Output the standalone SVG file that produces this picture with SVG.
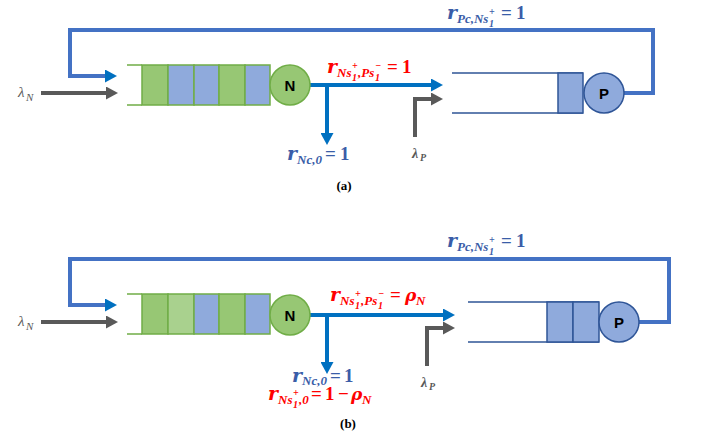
<svg xmlns="http://www.w3.org/2000/svg" width="706" height="442" viewBox="0 0 706 442">
<defs>
<style>
.bg{fill:#ffffff}
.qn{fill:none;stroke:#70AD47;stroke-width:1.5}
.cg{fill:#97C774;stroke:#70AD47;stroke-width:1.5}
.cl{fill:#A9D18E;stroke:#70AD47;stroke-width:1.5}
.cb{fill:#8FAADC;stroke:#70AD47;stroke-width:1.5}
.qp{fill:none;stroke:#2F5597;stroke-width:1.5}
.cp{fill:#8FAADC;stroke:#2F5597;stroke-width:1.5}
.nN{fill:#97C774;stroke:#70AD47;stroke-width:1.5}
.nP{fill:#8FAADC;stroke:#2F5597;stroke-width:1.5}
.nt{font-family:"Liberation Sans",Arial,sans-serif;font-weight:bold;font-size:15px;fill:#000;text-anchor:middle}
.loop{fill:none;stroke:#4472C4;stroke-width:4}
.flow{fill:none;stroke:#0070C0;stroke-width:4}
.ext{fill:none;stroke:#595959;stroke-width:4}
.m{font-family:"Liberation Serif","Times New Roman",serif;font-weight:bold;font-style:italic}
.r{font-family:"DejaVu Serif",serif;font-size:19px}
.s{font-size:13px}
.ss{font-size:10px}
.eq{font-style:normal;font-size:19px}
.rho{font-family:"DejaVu Serif",serif;font-style:italic;font-size:17px}
.blu{fill:#3A5DA8}
.red{fill:#FF0000}
.lam{font-family:"Liberation Serif","Times New Roman",serif;font-style:italic;fill:#595959}
.cap{font-family:"Liberation Serif","Times New Roman",serif;font-weight:bold;font-size:13px;fill:#000;text-anchor:middle}
</style>
<marker id="ab" markerUnits="userSpaceOnUse" markerWidth="12" markerHeight="13" refX="0" refY="6.5" orient="auto"><path d="M0,0 L12,6.5 L0,13 z" fill="#0070C0"/></marker>
<marker id="ag" markerUnits="userSpaceOnUse" markerWidth="12" markerHeight="13" refX="0" refY="6.5" orient="auto"><path d="M0,0 L12,6.5 L0,13 z" fill="#595959"/></marker>
</defs>
<rect class="bg" x="0" y="0" width="706" height="442"/>

<g id="connectors">
<path class="loop" d="M624,93 H653 V30 H70 V76 H105" marker-end="url(#ab)"/>
<path class="ext" d="M41,93 H106" marker-end="url(#ag)"/>
<path class="flow" d="M310,85 H431" marker-end="url(#ab)"/>
<path class="flow" d="M327,85 V133" marker-end="url(#ab)"/>
<path class="ext" d="M415,137 V99 H431" marker-end="url(#ag)"/>

<path class="loop" d="M639,322 H669 V259 H70 V305 H105" marker-end="url(#ab)"/>
<path class="ext" d="M41,322 H106" marker-end="url(#ag)"/>
<path class="flow" d="M310,315 H443" marker-end="url(#ab)"/>
<path class="flow" d="M327,315 V362" marker-end="url(#ab)"/>
<path class="ext" d="M427,366 V328 H443" marker-end="url(#ag)"/>
</g>

<g id="queueN_a">
<path class="qn" d="M127,65 H142 M127,105 H142"/>
<rect class="cg" x="142" y="65" width="26" height="40"/>
<rect class="cb" x="168" y="65" width="26" height="40"/>
<rect class="cb" x="194" y="65" width="25" height="40"/>
<rect class="cg" x="219" y="65" width="26" height="40"/>
<rect class="cb" x="245" y="65" width="25" height="40"/>
</g>
<g id="nodeN_a">
<circle class="nN" cx="290" cy="85" r="20"/>
<text class="nt" x="290" y="90.5">N</text>
</g>
<g id="queueP_a">
<path class="qp" d="M452,73 H583 M452,113 H583"/>
<rect class="cp" x="558" y="73" width="25" height="40"/>
</g>
<g id="nodeP_a">
<circle class="nP" cx="604" cy="93" r="20"/>
<text class="nt" x="604" y="98.5">P</text>
</g>

<g id="queueN_b">
<path class="qn" d="M127,294 H142 M127,334 H142"/>
<rect class="cg" x="142" y="294" width="26" height="40"/>
<rect class="cl" x="168" y="294" width="26" height="40"/>
<rect class="cb" x="194" y="294" width="25" height="40"/>
<rect class="cg" x="219" y="294" width="26" height="40"/>
<rect class="cb" x="245" y="294" width="25" height="40"/>
</g>
<g id="nodeN_b">
<circle class="nN" cx="290" cy="315" r="20"/>
<text class="nt" x="290" y="320.5">N</text>
</g>
<g id="queueP_b">
<path class="qp" d="M468,302 H599 M468,342 H599"/>
<rect class="cp" x="547" y="302" width="26" height="40"/>
<rect class="cp" x="573" y="302" width="26" height="40"/>
</g>
<g id="nodeP_b">
<circle class="nP" cx="619" cy="322" r="20"/>
<text class="nt" x="619" y="327.5">P</text>
</g>

<g id="labels">
<text class="m blu"><tspan class="r" x="447" y="19">r</tspan><tspan class="s" x="457" y="23">Pc,Ns</tspan><tspan class="ss" x="489" y="15">+</tspan><tspan class="ss" x="489" y="27">1</tspan><tspan class="eq" x="501" y="19">=</tspan><tspan class="eq" x="516" y="19">1</tspan></text>
<text class="m red"><tspan class="r" x="327" y="73">r</tspan><tspan class="s" x="337" y="77">Ns</tspan><tspan class="ss" x="352" y="69">+</tspan><tspan class="ss" x="352" y="81">1</tspan><tspan class="s" x="358" y="77">,Ps</tspan><tspan class="ss" x="375" y="69">−</tspan><tspan class="ss" x="375" y="81">1</tspan><tspan class="eq" x="387" y="73">=</tspan><tspan class="eq" x="402" y="73">1</tspan></text>
<text class="m blu"><tspan class="r" x="287" y="160">r</tspan><tspan class="s" x="297" y="164">Nc,0</tspan><tspan class="eq" x="325" y="160">=</tspan><tspan class="eq" x="340" y="160">1</tspan></text>
<text class="lam" x="18" y="97" font-size="15">λ<tspan x="26" y="101" font-size="11">N</tspan></text>
<text class="lam" x="412" y="158" font-size="14" font-weight="bold">λ<tspan x="420" y="161" font-size="10">P</tspan></text>
<text class="cap" x="344" y="190">(a)</text>

<text class="m blu"><tspan class="r" x="447" y="247">r</tspan><tspan class="s" x="457" y="251">Pc,Ns</tspan><tspan class="ss" x="489" y="243">+</tspan><tspan class="ss" x="489" y="255">1</tspan><tspan class="eq" x="501" y="247">=</tspan><tspan class="eq" x="516" y="247">1</tspan></text>
<text class="m red"><tspan class="r" x="330" y="301">r</tspan><tspan class="s" x="340" y="305">Ns</tspan><tspan class="ss" x="355" y="297">+</tspan><tspan class="ss" x="355" y="309">1</tspan><tspan class="s" x="361" y="305">,Ps</tspan><tspan class="ss" x="378" y="297">−</tspan><tspan class="ss" x="378" y="309">1</tspan><tspan class="eq" x="390" y="301">=</tspan><tspan class="rho" x="405" y="301">ρ</tspan><tspan class="s" x="416" y="305">N</tspan></text>
<text class="m blu"><tspan class="r" x="292" y="382">r</tspan><tspan class="s" x="302" y="385">Nc,0</tspan><tspan class="eq" x="330" y="382">=</tspan><tspan class="eq" x="344" y="382">1</tspan></text>
<text class="m red"><tspan class="r" x="268" y="400">r</tspan><tspan class="s" x="278" y="404">Ns</tspan><tspan class="ss" x="293" y="396">+</tspan><tspan class="ss" x="293" y="408">1</tspan><tspan class="s" x="299" y="404">,0</tspan><tspan class="eq" x="311" y="400">=</tspan><tspan class="eq" x="325" y="400">1</tspan><tspan class="eq" x="338" y="400">−</tspan><tspan class="rho" x="351" y="400">ρ</tspan><tspan class="s" x="362" y="404">N</tspan></text>
<text class="lam" x="18" y="326" font-size="15">λ<tspan x="26" y="330" font-size="11">N</tspan></text>
<text class="lam" x="421" y="387" font-size="14" font-weight="bold">λ<tspan x="429" y="390" font-size="10">P</tspan></text>
<text class="cap" x="348" y="428">(b)</text>
</g>
</svg>
